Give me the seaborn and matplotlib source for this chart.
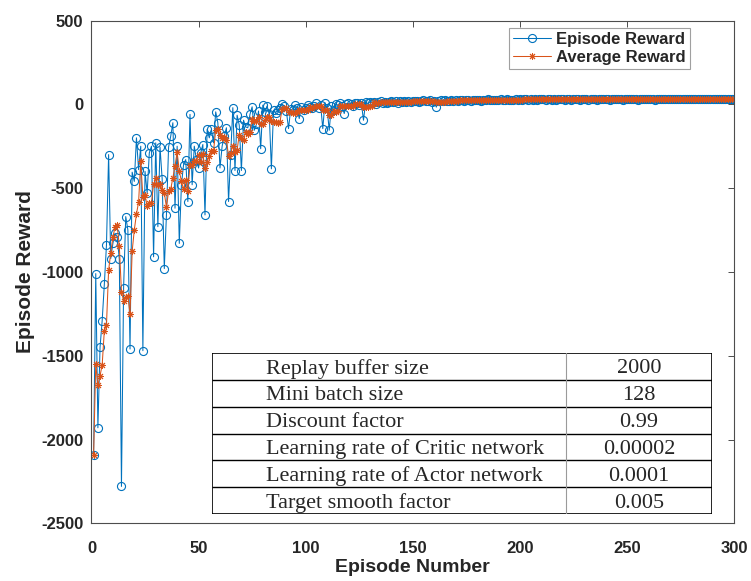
import matplotlib
matplotlib.use("Agg")
import matplotlib.pyplot as plt
import pandas as pd
import seaborn as sns

# ---- training curve data -------------------------------------------------
episodes = list(range(1, 301))

episode_reward = [
    -2090, -1010, -1930, -1450, -1290, -1075, -840, -300, -920, -830,
    -770, -790, -925, -2280, -1095, -670, -750, -1460, -405, -460,
    -200, -390, -250, -1470, -400, -530, -290, -250, -910, -230,
    -730, -255, -445, -980, -660, -255, -190, -110, -620, -250,
    -830, -480, -360, -330, -580, -60, -480, -250, -330, -380,
    -290, -240, -660, -150, -200, -150, -230, -45, -110, -380,
    -250, -190, -140, -580, -300, -20, -395, -65, -125, -395,
    -95, -135, -140, -60, -15, -155, -120, -40, -265, -5,
    -45, -10, -60, -385, -35, -50, -35, -20, 0, -10,
    -40, -145, -30, -35, -5, -20, -85, -15, -35, -20,
    -5, -15, -25, -10, 5, -20, -5, -145, 10, -20,
    -155, -10, -35, 0, -5, 5, -10, -55, 0, 5,
    2, -8, 6, 10, -3, 8, -95, 12, 5, 14,
    8, 15, 3, 12, 18, 10, 16, 6, 14, 19,
    12, 17, 9, 18, 14, 20, 11, 19, 16, 21,
    18, 22, 15, 20, 24, 17, 21, 23, 16, 22,
    -17, 20, 24, 19, 25, 21, 18, 24, 22, 26,
    20, 25, 23, 19, 26, 24, 21, 27, 23, 25,
    28, 22, 26, 24, 29, 25, 23, 28, 26, 24,
    29, 27, 25, 30, 26, 28, 24, 29, 27, 30,
    27, 31, 29, 26, 32, 28, 30, 27, 31, 29,
    30, 27, 32, 29, 28, 31, 26, 30, 32, 29,
    28, 31, 30, 27, 33, 29, 31, 28, 30, 32,
    29, 27, 31, 30, 33, 28, 30, 32, 29, 31,
    30, 28, 32, 31, 29, 33, 30, 28, 31, 32,
    29, 31, 30, 33, 28, 32, 30, 31, 29, 33,
    31, 30, 28, 32, 31, 33, 29, 31, 32, 30,
    32, 29, 31, 33, 30, 32, 31, 29, 33, 31,
    30, 32, 31, 33, 29, 32, 31, 30, 33, 32,
    31, 33, 30, 32, 31, 33, 32, 30, 33, 32,
]

average_reward = [
    -2090, -1550, -1677, -1620, -1554, -1351, -1317, -991, -885, -793,
    -732, -722, -847, -1119, -1172, -1152, -1144, -1251, -876, -749,
    -655, -583, -341, -554, -542, -608, -588, -588, -476, -442,
    -482, -475, -514, -528, -614, -519, -506, -439, -367, -285,
    -400, -458, -508, -450, -516, -362, -362, -340, -340, -300,
    -346, -298, -380, -344, -308, -280, -278, -155, -147, -183,
    -203, -195, -214, -308, -292, -246, -287, -272, -181, -200,
    -215, -163, -178, -165, -89, -101, -98, -78, -119, -117,
    -95, -73, -77, -101, -107, -108, -113, -105, -28, -23,
    -21, -43, -45, -52, -51, -47, -35, -32, -32, -35,
    -32, -18, -20, -15, -10, -13, -11, -35, -31, -36,
    -63, -64, -42, -44, -41, -9, -9, -13, -13, -11,
    -12, -11, 1, 3, 1, 3, -15, -14, -15, -11,
    -11, 11, 9, 10, 11, 12, 12, 12, 13, 13,
    13, 14, 14, 15, 14, 16, 14, 16, 16, 17,
    17, 19, 18, 19, 20, 20, 19, 21, 20, 20,
    13, 13, 13, 14, 14, 22, 21, 21, 22, 22,
    22, 23, 23, 23, 23, 23, 23, 23, 24, 24,
    25, 25, 25, 25, 26, 25, 25, 26, 26, 25,
    26, 27, 26, 27, 27, 27, 27, 27, 27, 28,
    27, 29, 29, 29, 29, 29, 29, 29, 30, 29,
    29, 29, 30, 29, 29, 29, 29, 29, 29, 30,
    29, 30, 30, 29, 30, 30, 30, 30, 30, 30,
    30, 29, 30, 30, 30, 30, 30, 31, 30, 30,
    30, 30, 30, 30, 30, 31, 31, 30, 30, 31,
    30, 30, 31, 31, 30, 31, 31, 31, 30, 31,
    31, 31, 30, 31, 30, 31, 31, 31, 31, 31,
    31, 31, 31, 31, 31, 31, 31, 31, 31, 31,
    31, 31, 31, 31, 31, 31, 31, 31, 31, 32,
    31, 32, 32, 32, 31, 32, 32, 32, 32, 32,
]

# ---- hyper-parameter table ----------------------------------------------
param_names = [
    "Replay buffer size",
    "Mini batch size",
    "Discount factor",
    "Learning rate of Critic network",
    "Learning rate of Actor network",
    "Target smooth factor",
]
param_values = ["2000", "128", "0.99", "0.00002", "0.0001", "0.005"]

x_ticks = [0, 50, 100, 150, 200, 250, 300]
y_ticks = [-2500, -2000, -1500, -1000, -500, 0, 500]

# ---- styling ---------------------------------------------------------------
sns.set_style("white")
plt.rcParams["font.family"] = ["Liberation Sans", "DejaVu Sans"]

BLUE = "#0072BD"
ORANGE = "#D95319"
AXIS_GRAY = "#4d4d4d"

fig = plt.figure(figsize=(7.51, 5.81), dpi=100)
ax = fig.add_axes([0.1218, 0.0993, 0.8556, 0.8654])

df = pd.DataFrame({
    "Episode": episodes,
    "Episode Reward": episode_reward,
    "Average Reward": average_reward,
})

sns.lineplot(
    data=df, x="Episode", y="Episode Reward", ax=ax,
    color=BLUE, linewidth=0.75, marker="o", markersize=5.8,
    markerfacecolor="none", markeredgecolor=BLUE, markeredgewidth=0.8,
    label="Episode Reward", sort=False, estimator=None,
)
sns.lineplot(
    data=df, x="Episode", y="Average Reward", ax=ax,
    color=ORANGE, linewidth=0.75, marker=(8, 2, 0), markersize=5,
    markerfacecolor=ORANGE, markeredgecolor=ORANGE, markeredgewidth=0.7,
    label="Average Reward", sort=False, estimator=None,
)

ax.set_xlim(0, 300)
ax.set_ylim(-2500, 500)
ax.set_xticks(x_ticks)
ax.set_yticks(y_ticks)
ax.set_xticklabels([str(t) for t in x_ticks])
ax.set_yticklabels([str(t) for t in y_ticks])
ax.tick_params(axis="both", direction="in", top=True, right=True,
               length=4.5, width=0.7, color=AXIS_GRAY, labelsize=12)
ax.tick_params(axis="x", pad=13)
ax.tick_params(axis="y", pad=6)
for lbl in ax.get_xticklabels() + ax.get_yticklabels():
    lbl.set_fontweight("bold")

for spine in ax.spines.values():
    spine.set_visible(True)
    spine.set_color(AXIS_GRAY)
    spine.set_linewidth(0.8)

ax.set_xlabel("Episode Number", fontsize=14, fontweight="bold", labelpad=2)
ax.set_ylabel("Episode Reward", fontsize=15, fontweight="bold", labelpad=4)

leg = ax.legend(
    loc="upper right", bbox_to_anchor=(690 / 751, 1 - 28 / 581),
    bbox_transform=fig.transFigure, borderaxespad=0,
    prop={"weight": "bold", "size": 12}, frameon=True, fancybox=False,
    handlelength=2.3, handletextpad=0.3, borderpad=0.25, labelspacing=0.15,
)
leg.get_frame().set_edgecolor("#888888")
leg.get_frame().set_linewidth(0.8)

# ---- inset table -----------------------------------------------------------
tax = fig.add_axes([212 / 751, 1 - 514 / 581, 500 / 751, 161 / 581])
tax.set_xlim(0, 1)
tax.set_ylim(0, 1)
tax.set_facecolor("white")
tax.patch.set_alpha(1.0)
for s in tax.spines.values():
    s.set_visible(False)
tax.set_xticks([])
tax.set_yticks([])

n_rows = len(param_names)
divider = 0.708
row_h = 1.0 / n_rows
for i in range(n_rows + 1):
    y = 1 - i * row_h
    tax.plot([0, 1], [y, y], color="black", lw=1.2 if i in (0, n_rows) else 1.0,
             solid_capstyle="butt")
tax.plot([0, 0], [0, 1], color="black", lw=1.2)
tax.plot([1, 1], [0, 1], color="black", lw=1.2)
tax.plot([divider, divider], [0, 1], color="#9a9a9a", lw=0.8)

serif = ["Liberation Serif", "DejaVu Serif"]
for i, (name, val) in enumerate(zip(param_names, param_values)):
    yc = 1 - (i + 0.5) * row_h
    tax.text(0.108, yc, name, family=serif, fontsize=16, ha="left",
             va="center_baseline")
    tax.text((divider + 1) / 2, yc, val, family=serif, fontsize=16,
             ha="center", va="center_baseline")

fig.savefig("out.png", dpi=100)
